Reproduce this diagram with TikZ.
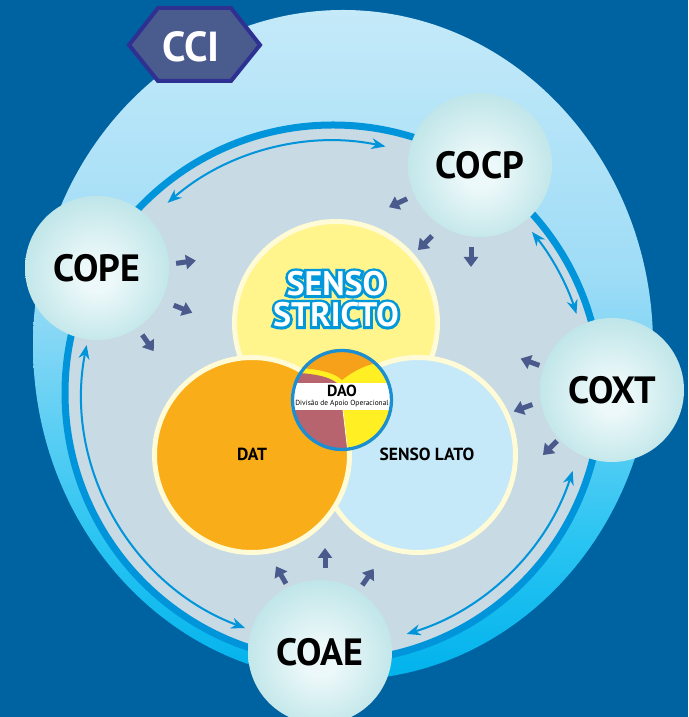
\documentclass[tikz,border=0pt]{standalone}
\usepackage{fontspec}
\setmainfont{PT Sans}
\newfontface\ssoutline{PT Sans Bold}[FakeBold=16]
\usetikzlibrary{arrows.meta}

\definecolor{bgblue}{RGB}{0,99,161}
\definecolor{glowtop}{RGB}{236,248,253}
\definecolor{glowhigh}{RGB}{206,237,250}
\definecolor{glowmid}{RGB}{158,220,246}
\definecolor{glowcyan}{RGB}{40,196,242}
\definecolor{glowbot}{RGB}{0,178,236}
\definecolor{ringblue}{RGB}{0,148,218}
\definecolor{innergrey}{RGB}{200,218,227}
\definecolor{ccifill}{RGB}{74,91,142}
\definecolor{ccirim}{RGB}{46,49,146}
\definecolor{bubin}{RGB}{236,248,249}
\definecolor{bubout}{RGB}{140,208,214}
\definecolor{cream}{RGB}{255,251,214}
\definecolor{strictoyellow}{RGB}{255,245,140}
\definecolor{datorange}{RGB}{249,173,25}
\definecolor{latoblue}{RGB}{197,233,248}
\definecolor{daoblue}{RGB}{27,143,210}
\definecolor{daoorange}{RGB}{247,161,27}
\definecolor{daoyellow}{RGB}{255,239,35}
\definecolor{daomauve}{RGB}{184,100,111}
\definecolor{feedblue}{RGB}{74,90,140}
\definecolor{ssblue}{RGB}{0,152,218}

\pgfdeclareverticalshading{glow}{100bp}{color(0bp)=(glowbot); color(25bp)=(glowbot); color(35bp)=(glowcyan); color(55bp)=(glowmid); color(80bp)=(glowhigh); color(100bp)=(glowtop)}
\pgfdeclareradialshading{bubble}{\pgfpoint{0bp}{-3bp}}{color(0bp)=(bubin); color(6bp)=(bubin); color(50bp)=(bubout)}

\tikzset{
  unit/.style={circle, minimum size=144pt, inner sep=0pt, shading=bubble,
    font=\bfseries\fontsize{38}{38}\selectfont},
  relarrow/.style={draw=ringblue, line width=2pt},
  feed/.style={draw=feedblue, line width=5pt, -{Triangle[length=10pt,width=14pt]}},
  venn/.style={draw=cream, line width=5pt},
  vennlabel/.style={anchor=base, font=\bfseries\fontsize{17.5}{18}\selectfont},
  stricto/.style={align=center, text=white, font=\bfseries\fontsize{34}{31}\selectfont}
}

\begin{document}
\begin{tikzpicture}[x=1pt,y=1pt,>={Stealth[length=14pt,width=11pt]}]
  % background and the big light ellipse
  \fill[bgblue] (0,0) rectangle (688,717);
  \useasboundingbox (0,0) rectangle (688,717);
  \shade[shading=glow] (343,372) ellipse [x radius=310, y radius=335];

  % CCI badge
  \draw[line width=4pt, draw=ccirim, fill=ccifill] (129,672) -- (158,709) -- (231,709)
    -- (260,672) -- (231,636) -- (158,636) -- cycle;
  \node[anchor=base, text=white, font=\bfseries\fontsize{42}{42}\selectfont] (cci) at (191,655) {CCI};

  % the ring
  \coordinate (o) at (333,324);
  \draw[line width=7pt, draw=ringblue, fill=innergrey] (o) circle (268);

  % relations between the units
  \coordinate (pe-cp) at ([shift={(131:252)}]o);
  \coordinate (cp-xt) at ([shift={(39:256)}]o);
  \coordinate (xt-ae) at ([shift={(-18:252)}]o);
  \coordinate (pe-ae) at ([shift={(169:251)}]o);
  \draw[relarrow, <->] (pe-cp) arc[start angle=131, end angle=78, radius=252];
  \draw[relarrow, <->] (cp-xt) arc[start angle=39, end angle=18, radius=256];
  \draw[relarrow, <->] (xt-ae) arc[start angle=-18, end angle=-73, radius=252];
  \draw[relarrow, <->] (pe-ae) arc[start angle=169, end angle=249.5, radius=251];

  % small arrows towards the centre
  \draw[feed] ([shift={(205:-10)}]398,514) -- ++(205:20);
  \draw[feed] ([shift={(225:-10)}]425,474) -- ++(225:20);
  \draw[feed] ([shift={(270:-10)}]471,460) -- ++(270:20);
  \draw[feed] ([shift={(8:-10)}]186,455) -- ++(8:20);
  \draw[feed] ([shift={(-22:-10)}]183,408) -- ++(-22:20);
  \draw[feed] ([shift={(-55:-10)}]148,374) -- ++(-55:20);
  \draw[feed] ([shift={(160:-10)}]530,355) -- ++(160:20);
  \draw[feed] ([shift={(200:-10)}]523,309) -- ++(200:20);
  \draw[feed] ([shift={(225:-10)}]550,269) -- ++(225:20);
  \draw[feed] ([shift={(120:-10)}]281,142) -- ++(120:20);
  \draw[feed] ([shift={(90:-10)}]325,159) -- ++(90:20);
  \draw[feed] ([shift={(55:-10)}]368,140) -- ++(55:20);

  % the three circles
  \draw[venn, fill=strictoyellow] (336,394) circle (101.5);
  \node[stricto, text=ssblue, font=\ssoutline\fontsize{34}{31}\selectfont] (ssback) at (336,418) {SENSO\\STRICTO};
  \node[stricto] (sstricto) at (336,418) {SENSO\\STRICTO};
  \draw[venn, fill=latoblue] (418,262) circle (97.5);
  \draw[venn, fill=datorange] (252,262) circle (97.5);
  \node[vennlabel] (dat) at (252,256) {DAT};
  \node[vennlabel] (lato) at (427,256) {SENSO LATO};

  % DAO in the middle
  \coordinate (dao) at (342,317);
  \begin{scope}
    \clip (dao) circle (51);
    \fill[daoyellow] (dao) circle (51);
    \fill[daoorange] (285,349) -- (298,349) .. controls (320,348) and (335,344) .. (342,337)
      .. controls (352,345) and (365,352) .. (377,354) -- (400,356) -- (400,375) -- (285,375) -- cycle;
    \fill[daomauve] (285,344) -- (298,344) .. controls (318,343) and (333,339) .. (339,332)
      .. controls (343,312) and (345,287) .. (349,257) -- (285,257) -- cycle;
    \draw[cream, line width=0.8pt] (339,332) .. controls (343,312) and (345,287) .. (349,257);
    \fill[white] (285,307) rectangle (400,334);
  \end{scope}
  \draw[daoblue, line width=3.3pt] (dao) circle (49.5);
  \node[anchor=base, inner sep=0pt, font=\bfseries\fontsize{16}{16}\selectfont] (daotitle) at (342,320) {DAO};
  \node[anchor=base, inner sep=0pt, font=\fontsize{7.4}{8}\selectfont] (daosub) at (342,311) {Divisão de Apoio Operacional};

  % the four units
  \node[unit] (cocp) at (480,552) {COCP};
  \node[unit] (cope) at (97,449) {COPE};
  \node[unit] (coxt) at (612,327) {COXT};
  \node[unit] (coae) at (320,65) {COAE};
\end{tikzpicture}
\end{document}
